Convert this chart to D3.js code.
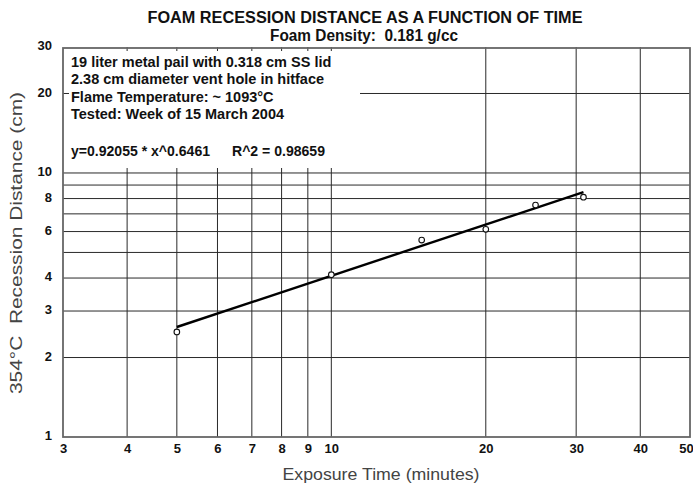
<!DOCTYPE html>
<html><head><meta charset="utf-8">
<script src="https://cdn.jsdelivr.net/npm/d3@7"></script>
<style>body{margin:0;background:#fff} text{white-space:pre}</style>
</head><body><svg id="c" width="693" height="488"></svg>
<script>
const times = [5, 10, 15, 20, 25, 31];
const distances = [2.5, 4.12, 5.57, 6.12, 7.56, 8.1];
const fitTimes = [5, 31];
const fitDistances = [2.61, 8.46];
const xTicks = [3, 4, 5, 6, 7, 8, 9, 10, 20, 30, 40, 50];
const yTicks = [1, 2, 3, 4, 6, 8, 10, 20, 30];
const xGrid = [4, 5, 6, 7, 8, 9, 10, 20, 30, 40];
const yGrid = [2, 3, 4, 5, 6, 7, 8, 9, 10, 20];
const titleText = "FOAM RECESSION DISTANCE AS A FUNCTION OF TIME";
const subtitleText = "Foam Density:  0.181 g/cc";
const xTitle = "Exposure Time (minutes)";
const yTitle = "354°C  Recession Distance (cm)";
const noteLines = ["19 liter metal pail with 0.318 cm SS lid",
  "2.38 cm diameter vent hole in hitface",
  "Flame Temperature: ~ 1093°C",
  "Tested: Week of 15 March 2004"];
const eqText = "y=0.92055 * x^0.6461";
const r2Text = "R^2 = 0.98659";

const svg = d3.select("#c");
const L = 63, R = 690, T = 47, B = 437;
const x = d3.scaleLog().domain([3, 50]).range([L, R]);
const y = d3.scaleLog().domain([1, 30]).range([B, T]);
const font = "'Liberation Sans', Arial, sans-serif";

// grid
svg.append("g").selectAll("line").data(xGrid).join("line")
  .attr("x1", d => x(d)).attr("x2", d => x(d)).attr("y1", T).attr("y2", B)
  .attr("stroke", "#2a2a2a").attr("stroke-width", 1);
svg.append("g").selectAll("line").data(yGrid).join("line")
  .attr("x1", L).attr("x2", R).attr("y1", d => y(d)).attr("y2", d => y(d))
  .attr("stroke", "#2a2a2a").attr("stroke-width", 1);

// annotation box mask
svg.append("rect").attr("x", 69).attr("y", 51).attr("width", 291).attr("height", 117).attr("fill", "#fff");

// border
svg.append("rect").attr("x", L).attr("y", T + 1).attr("width", R - L).attr("height", B - T - 1)
  .attr("fill", "none").attr("stroke", "#666").attr("stroke-width", 1.8);

// axes labels
const xa = svg.append("g").attr("transform", `translate(0,${B})`)
  .call(d3.axisBottom(x).tickValues(xTicks).tickSize(0).tickPadding(7).tickFormat(d3.format("d")));
const ya = svg.append("g").attr("transform", `translate(${L},0)`)
  .call(d3.axisLeft(y).tickValues(yTicks).tickSize(0).tickPadding(11).tickFormat(d3.format("d")));
[xa, ya].forEach(a => {
  a.select(".domain").remove();
  a.selectAll("text").attr("font-family", font).attr("font-weight", "bold")
    .attr("font-size", 13).attr("fill", "#111");
});
ya.selectAll("text").attr("dy", "0.2em");
xa.selectAll("text").filter(d => d === 50).attr("dx", -4);

// fit line
svg.append("path").datum(fitTimes.map((t, i) => [t, fitDistances[i]]))
  .attr("d", d3.line().x(d => x(d[0])).y(d => y(d[1])))
  .attr("fill", "none").attr("stroke", "#000").attr("stroke-width", 2.4);

// points
svg.append("g").selectAll("circle").data(times.map((t, i) => [t, distances[i]])).join("circle")
  .attr("cx", d => x(d[0])).attr("cy", d => y(d[1])).attr("r", 2.8)
  .attr("fill", "#fff").attr("stroke", "#111").attr("stroke-width", 1.1);

// notes
const noteStyle = s => s.attr("font-family", font).attr("font-weight", "bold")
  .attr("font-size", 14.5).attr("fill", "#111");
svg.append("g").selectAll("text").data(noteLines).join("text")
  .attr("x", 71).attr("y", (d, i) => 67 + i * 17.3).text(d => d).call(noteStyle);
svg.append("text").attr("x", 71).attr("y", 156).text(eqText).call(noteStyle)
  .attr("textLength", 139).attr("lengthAdjust", "spacingAndGlyphs");
svg.append("text").attr("x", 232).attr("y", 156).text(r2Text).call(noteStyle)
  .attr("textLength", 93).attr("lengthAdjust", "spacingAndGlyphs");

// titles
svg.append("text").attr("x", 365).attr("y", 23).attr("text-anchor", "middle").text(titleText)
  .attr("font-family", font).attr("font-weight", "bold").attr("font-size", 16).attr("fill", "#111")
  .attr("textLength", 435).attr("lengthAdjust", "spacingAndGlyphs");
svg.append("text").attr("x", 364).attr("y", 41).attr("text-anchor", "middle").text(subtitleText)
  .attr("font-family", font).attr("font-weight", "bold").attr("font-size", 16).attr("fill", "#111")
  .attr("textLength", 188).attr("lengthAdjust", "spacingAndGlyphs");
svg.append("text").attr("x", 381).attr("y", 480).attr("text-anchor", "middle").text(xTitle)
  .attr("font-family", font).attr("font-size", 17).attr("fill", "#444")
  .attr("textLength", 197).attr("lengthAdjust", "spacingAndGlyphs");
svg.append("text").attr("transform", "translate(22,243) rotate(-90)").attr("text-anchor", "middle").text(yTitle)
  .attr("font-family", font).attr("font-size", 17).attr("fill", "#444")
  .attr("textLength", 302).attr("lengthAdjust", "spacingAndGlyphs");
</script></body></html>
